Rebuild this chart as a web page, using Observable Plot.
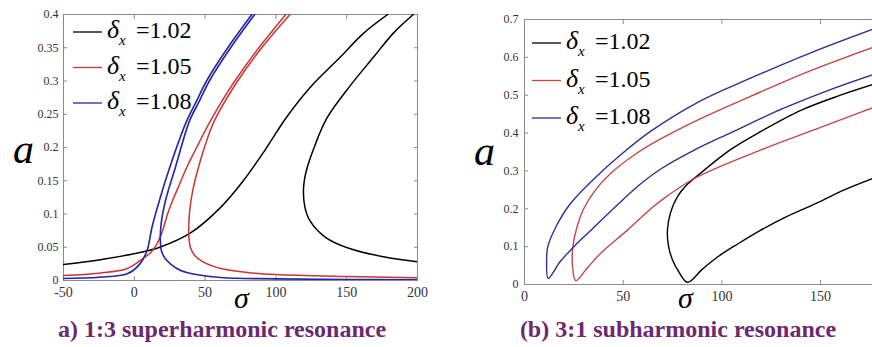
<!DOCTYPE html>
<html><head><meta charset="utf-8">
<script src="https://cdn.jsdelivr.net/npm/d3@7"></script>
<script src="https://cdn.jsdelivr.net/npm/@observablehq/plot@0.6"></script>
<style>
html,body{margin:0;padding:0;background:#fff;width:872px;height:347px;overflow:hidden;}
#wrap{position:relative;width:872px;height:347px;overflow:hidden;}
#left{position:absolute;left:0;top:0;}
#right{position:absolute;left:484px;top:0;}
#over{position:absolute;left:0;top:0;}
</style></head><body>
<div id="wrap"><div id="left"></div><div id="right"></div><svg id="over" width="872" height="347"></svg></div>
<script>
// ---------- data ----------
const deltaLabels = ["1.02", "1.05", "1.08"];
const seriesColorsA = ["#000000", "#cc3535", "#2424a8"];
const seriesColorsB = ["#000000", "#c44848", "#30308e"];
const captionA = "a) 1:3 superharmonic resonance";
const captionB = "(b) 3:1 subharmonic resonance";

// (a) superharmonic: ticks and domains
const xTicksA = [-50, 0, 50, 100, 150, 200];
const yTicksA = [0, 0.05, 0.1, 0.15, 0.2, 0.25, 0.3, 0.35, 0.4];
const xDomainA = [-50, 200];
const yDomainA = [0, 0.4];

// [sigma, a] points
const blackS_A = [[-50,0.024],[-25,0.031],[4,0.042],[18,0.05],[40,0.072],[61,0.11],[77,0.15],[92,0.195],[107,0.244],[124,0.29],[145.5,0.336],[162,0.372],[179,0.4]];
const blackC_A = [[197,0.4],[183,0.372],[169,0.336],[152.5,0.293],[136,0.244],[127,0.2],[121.5,0.165],[119.5,0.138],[120.5,0.11],[124,0.09],[135,0.065],[152,0.048],[175,0.036],[200,0.028]];
const redS_A = [[-50,0.0075],[-25,0.011],[-5,0.018],[6,0.033],[12,0.043],[16,0.055],[20,0.075],[23.5,0.1],[27,0.12],[31,0.14],[37,0.17],[44,0.2],[53,0.237],[62,0.27],[71,0.3],[88,0.35],[107,0.4]];
const redC_A = [[110,0.4],[90,0.35],[73,0.3],[56.5,0.24],[49.5,0.2],[45.3,0.17],[42.8,0.15],[40.8,0.13],[39.4,0.11],[38.6,0.09],[38.6,0.065],[39.6,0.05],[42.5,0.038],[47,0.03],[55,0.022],[61,0.018],[80,0.012],[100,0.009],[150,0.006],[200,0.004]];
const blueS_A = [[-50,0.003],[-25,0.005],[-5,0.01],[4,0.025],[9,0.045],[12.5,0.08],[17,0.115],[25,0.17],[37,0.24],[44,0.27],[51,0.3],[66,0.35],[83,0.4]];
const blueC_A = [[85,0.4],[68,0.35],[53,0.3],[46,0.27],[39,0.24],[29,0.17],[22,0.12],[19,0.086],[18.4,0.06],[19.5,0.042],[23,0.03],[30,0.018],[37,0.012],[61,0.0045],[100,0.0025],[150,0.0015],[200,0.001]];

// (b) subharmonic
const xTicksB = [0, 50, 100, 150];
const yTicksB = [0, 0.1, 0.2, 0.3, 0.4, 0.5, 0.6, 0.7];
const xDomainB = [0, 176.3];
const yDomainB = [0, 0.7];

const blackUpperB = [[82.6,0.006],[78,0.035],[75,0.065],[73,0.1],[72.4,0.143],[74,0.19],[77.5,0.232],[82,0.262],[88,0.289],[104,0.355],[120,0.405],[140,0.46],[160,0.5],[176.3,0.528]];
const blackLowerB = [[82.6,0.006],[90,0.04],[97.6,0.072],[108,0.107],[119.5,0.143],[133,0.18],[148,0.215],[162,0.25],[176.3,0.28]];
const redUpperB = [[26,0.01],[24.3,0.05],[24.5,0.1],[26.5,0.15],[30,0.2],[36,0.25],[44,0.295],[55,0.34],[64,0.37],[90,0.44],[114.5,0.497],[145,0.565],[176.3,0.626]];
const redLowerB = [[26,0.01],[32,0.045],[38.5,0.082],[52,0.143],[64,0.2],[69,0.221],[86,0.28],[119.5,0.355],[150,0.415],[176.3,0.467]];
const blueUpperB = [[12,0.016],[11.2,0.064],[11.8,0.1],[15.7,0.15],[23,0.212],[35,0.278],[48.6,0.342],[64,0.405],[88,0.482],[114.5,0.545],[145,0.612],[176.3,0.674]];
const blueLowerB = [[12,0.016],[18,0.06],[25,0.1],[35,0.15],[47,0.21],[58,0.262],[69,0.305],[86,0.355],[105,0.402],[131,0.465],[155,0.515],[176.3,0.554]];

// ---------- drawing ----------
const serif = "'Liberation Serif','Times New Roman',Times,serif";
const axisGray = "#8a8a8a";
const textGray = "#333";

function curve(data, color, w) {
  return Plot.line(data, {x: d => d[0], y: d => d[1], stroke: color, strokeWidth: w, curve: "catmull-rom", clip: true});
}
const fmt = d => String(d);

const plotA = Plot.plot({
  width: 436, height: 305,
  marginLeft: 63, marginRight: 19, marginTop: 14, marginBottom: 25,
  style: {fontFamily: serif, background: "transparent"},
  x: {domain: xDomainA},
  y: {domain: yDomainA},
  marks: [
    Plot.frame({stroke: axisGray}),
    Plot.axisX(xTicksA, {anchor: "bottom", tickSize: -4, tickPadding: 11, fontSize: 14, stroke: axisGray, fill: textGray, tickFormat: fmt, label: null}),
    Plot.axisX(xTicksA, {anchor: "top", tickSize: -4, stroke: axisGray, fill: "none", label: null}),
    Plot.axisY(yTicksA, {anchor: "left", tickSize: -4, tickPadding: 9, fontSize: 12, stroke: axisGray, fill: textGray, tickFormat: fmt, label: null}),
    Plot.axisY(yTicksA, {anchor: "right", tickSize: -4, stroke: axisGray, fill: "none", label: null}),
    curve(blackS_A, seriesColorsA[0], 1.5),
    curve(blackC_A, seriesColorsA[0], 1.5),
    curve(redS_A, seriesColorsA[1], 1.5),
    curve(redC_A, seriesColorsA[1], 1.5),
    curve(blueS_A, seriesColorsA[2], 1.6),
    curve(blueC_A, seriesColorsA[2], 1.6)
  ]
});
document.getElementById("left").appendChild(plotA);

const plotB = Plot.plot({
  width: 388, height: 306,
  marginLeft: 40, marginRight: 0, marginTop: 19, marginBottom: 22,
  style: {fontFamily: serif, background: "transparent"},
  x: {domain: xDomainB},
  y: {domain: yDomainB},
  marks: [
    Plot.ruleX([xDomainB[0]], {stroke: axisGray}),
    Plot.ruleY(yDomainB, {stroke: axisGray}),
    Plot.axisX(xTicksB, {anchor: "bottom", tickSize: -4, tickPadding: 11, fontSize: 14, stroke: axisGray, fill: textGray, tickFormat: fmt, label: null}),
    Plot.axisX(xTicksB, {anchor: "top", tickSize: -4, stroke: axisGray, fill: "none", label: null}),
    Plot.axisY(yTicksB, {anchor: "left", tickSize: -4, tickPadding: 10, fontSize: 12, stroke: axisGray, fill: textGray, tickFormat: fmt, label: null}),
    curve(blackUpperB.slice().reverse().concat(blackLowerB.slice(1)), seriesColorsB[0], 1.4),
    curve(redUpperB.slice().reverse().concat(redLowerB.slice(1)), seriesColorsB[1], 1.4),
    curve(blueUpperB.slice().reverse().concat(blueLowerB.slice(1)), seriesColorsB[2], 1.4)
  ]
});
document.getElementById("right").appendChild(plotB);

// ---------- overlay: legends, axis titles, captions ----------
const over = d3.select("#over").style("font-family", serif);
function legend(x0, y0, dy, colors) {
  deltaLabels.forEach((lab, i) => {
    const y = y0 + i * dy;
    over.append("line").attr("x1", x0).attr("x2", x0 + 29).attr("y1", y).attr("y2", y)
      .attr("stroke", colors[i]).attr("stroke-width", 1.3);
    const t = over.append("text").attr("x", x0 + 34).attr("y", y + 6).attr("fill", "#000");
    t.append("tspan").attr("font-style", "italic").attr("font-size", 26).text("δ");
    t.append("tspan").attr("font-style", "italic").attr("font-size", 15).attr("dy", 7).text("x");
    t.append("tspan").attr("x", x0 + 63).attr("dy", -7).attr("font-size", 24).text("=" + lab);
  });
}
legend(73, 32, 35.5, seriesColorsA);
legend(532, 43, 37.5, seriesColorsB);

function label(x, y, s, size) {
  over.append("text").attr("x", x).attr("y", y).attr("font-style", "italic").attr("font-size", size).attr("fill", "#000").text(s);
}
label(13, 163, "a", 42);
label(474, 165, "a", 42);
label(234, 308, "σ", 30);
label(678, 308, "σ", 30);

function caption(cx, s) {
  over.append("text").attr("x", cx).attr("y", 337).attr("text-anchor", "middle")
    .attr("font-weight", "bold").attr("font-size", 24).attr("fill", "#6b2a6d").text(s);
}
caption(222, captionA);
caption(678, captionB);
</script>
</body></html>
